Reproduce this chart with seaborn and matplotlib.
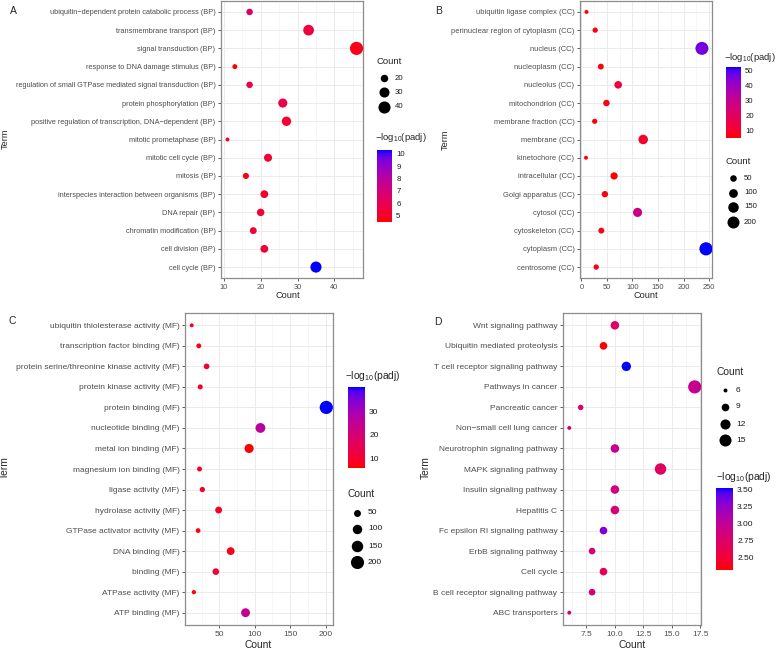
import numpy as np
import pandas as pd
import seaborn as sns
import matplotlib
matplotlib.use('Agg')
from matplotlib import pyplot as plt
from matplotlib.colors import LinearSegmentedColormap, Normalize
from matplotlib.cm import ScalarMappable
from matplotlib.ticker import FixedLocator

sns.set_theme(style='whitegrid')
plt.rcParams['font.family'] = ['Liberation Sans', 'DejaVu Sans']
plt.rcParams['mathtext.default'] = 'regular'

# ---- data (top to bottom as shown) ----
bp_terms = ['ubiquitin\u2212dependent protein catabolic process (BP)', 'transmembrane transport (BP)',
            'signal transduction (BP)', 'response to DNA damage stimulus (BP)',
            'regulation of small GTPase mediated signal transduction (BP)', 'protein phosphorylation (BP)',
            'positive regulation of transcription, DNA\u2212dependent (BP)', 'mitotic prometaphase (BP)',
            'mitotic cell cycle (BP)', 'mitosis (BP)', 'interspecies interaction between organisms (BP)',
            'DNA repair (BP)', 'chromatin modification (BP)', 'cell division (BP)', 'cell cycle (BP)']
bp_count = [17, 33, 46, 13, 17, 26, 27, 11, 22, 16, 21, 20, 18, 21, 35]
bp_logp = [6.5, 5.5, 4.8, 4.5, 5.8, 5.8, 5.3, 5.0, 5.3, 4.9, 5.1, 5.3, 5.2, 5.4, 10.3]

cc_terms = ['ubiquitin ligase complex (CC)', 'perinuclear region of cytoplasm (CC)', 'nucleus (CC)',
            'nucleoplasm (CC)', 'nucleolus (CC)', 'mitochondrion (CC)', 'membrane fraction (CC)',
            'membrane (CC)', 'kinetochore (CC)', 'intracellular (CC)', 'Golgi apparatus (CC)',
            'cytosol (CC)', 'cytoskeleton (CC)', 'cytoplasm (CC)', 'centrosome (CC)']
cc_count = [10, 27, 236, 38, 72, 49, 26, 121, 9, 64, 46, 110, 39, 244, 29]
cc_logp = [6, 6, 46, 7, 14, 7, 6, 10, 6, 5, 7, 28, 7, 52.2, 8]

mf_terms = ['ubiquitin thiolesterase activity (MF)', 'transcription factor binding (MF)',
            'protein serine/threonine kinase activity (MF)', 'protein kinase activity (MF)',
            'protein binding (MF)', 'nucleotide binding (MF)', 'metal ion binding (MF)',
            'magnesium ion binding (MF)', 'ligase activity (MF)', 'hydrolase activity (MF)',
            'GTPase activator activity (MF)', 'DNA binding (MF)', 'binding (MF)',
            'ATPase activity (MF)', 'ATP binding (MF)']
mf_count = [11, 21, 32, 23, 201, 108, 92, 22, 26, 49, 20, 66, 45, 14, 87]
mf_logp = [7, 7, 10, 8, 40.7, 27, 6, 9, 9, 9, 8, 7, 10, 5.7, 24]

kegg_terms = ['Wnt signaling pathway', 'Ubiquitin mediated proteolysis', 'T cell receptor signaling pathway',
              'Pathways in cancer', 'Pancreatic cancer', 'Non\u2212small cell lung cancer',
              'Neurotrophin signaling pathway', 'MAPK signaling pathway', 'Insulin signaling pathway',
              'Hepatitis C', 'Fc epsilon RI signaling pathway', 'ErbB signaling pathway', 'Cell cycle',
              'B cell receptor signaling pathway', 'ABC transporters']
kegg_count = [10, 9, 11, 17, 7, 6, 10, 14, 10, 10, 9, 8, 9, 8, 6]
kegg_logp = [2.7, 2.31, 3.52, 2.95, 2.75, 2.8, 2.95, 2.7, 2.85, 2.8, 3.3, 2.8, 2.65, 2.8, 2.85]

W, H = 778, 650
SIZES = (8, 90)


# red -> blue gradient interpolated in Lab like ggplot
M = np.array([[0.4124, 0.3576, 0.1805], [0.2126, 0.7152, 0.0722], [0.0193, 0.1192, 0.9505]])
WHITE = np.array([0.95047, 1.0, 1.08883])


def to_lab(rgb):
    c = np.asarray(rgb, float)
    c = np.where(c > 0.04045, ((c + 0.055) / 1.055) ** 2.4, c / 12.92)
    xyz = M @ c / WHITE
    f = np.where(xyz > 0.008856, np.cbrt(xyz), 7.787 * xyz + 16 / 116)
    return np.array([116 * f[1] - 16, 500 * (f[0] - f[1]), 200 * (f[1] - f[2])])


def from_lab(lab):
    L, a, b = lab
    fy = (L + 16) / 116
    f = np.array([fy + a / 500, fy, fy - b / 200])
    xyz = np.where(f ** 3 > 0.008856, f ** 3, (f - 16 / 116) / 7.787) * WHITE
    c = np.clip(np.linalg.inv(M) @ xyz, 0, 1)
    c = np.where(c > 0.0031308, 1.055 * c ** (1 / 2.4) - 0.055, 12.92 * c)
    return np.clip(c, 0, 1)


lab_lo, lab_hi = to_lab([1, 0, 0]), to_lab([0, 0, 1])
stops = [from_lab(lab_lo + t * (lab_hi - lab_lo)) for t in np.linspace(0, 1, 21)]
red_blue = LinearSegmentedColormap.from_list('red_blue', stops)


def px_axes(fig, left, top, right, bottom):
    return fig.add_axes([left / W, 1 - bottom / H, (right - left) / W, (bottom - top) / H])


def dot_panel(ax, terms, counts, logp, xticks, minor, fs):
    df = pd.DataFrame({'Term': terms, 'Count': counts, 'padj': logp})
    sns.scatterplot(data=df, x='Count', y='Term', hue='padj', palette=red_blue,
                    hue_norm=(min(logp), max(logp)), size='Count', sizes=SIZES,
                    size_norm=(min(counts), max(counts)), linewidth=0, legend=False, ax=ax, zorder=3)
    lo, hi = min(counts), max(counts)
    pad = (hi - lo) * 0.05
    ax.set_xlim(lo - pad, hi + pad)
    ax.set_ylim(len(terms) - 0.4, -0.6)
    ax.set_xticks(xticks)
    ax.xaxis.set_minor_locator(FixedLocator(minor))
    ax.grid(which='major', color='#ebebeb', linewidth=0.7)
    ax.grid(which='minor', axis='x', color='#f2f2f2', linewidth=0.45)
    ax.set_xlabel('')
    ax.set_ylabel('')
    for s in ax.spines.values():
        s.set_color('#8c8c8c')
        s.set_linewidth(0.9)
    ax.tick_params(axis='both', which='major', bottom=True, left=True, length=2.5, width=0.6,
                   color='#444444', labelsize=fs, labelcolor='#4d4d4d', pad=1.5)
    ax.tick_params(axis='x', which='minor', bottom=False)


def size_of(v, counts):
    lo, hi = min(counts), max(counts)
    return SIZES[0] + (v - lo) / (hi - lo) * (SIZES[1] - SIZES[0])


def size_legend(ov, counts, breaks, x, ys, title_xy, fs_title, fs):
    ov.text(title_xy[0], title_xy[1], 'Count', fontsize=fs_title, ha='left', va='center')
    for b, y in zip(breaks, ys):
        ov.scatter([x], [y], s=size_of(b, counts), color='black', linewidth=0)
        ov.text(x + 11, y, str(b), fontsize=fs, ha='left', va='center', color='#1a1a1a')


def color_legend(fig, ov, logp, box, ticks, fmt, title_xy, fs_title, fs):
    ov.text(title_xy[0], title_xy[1], r'$-log_{10}$(padj)', fontsize=fs_title, ha='left', va='center')
    cax = px_axes(fig, *box)
    sm = ScalarMappable(norm=Normalize(min(logp), max(logp)), cmap=red_blue)
    cb = fig.colorbar(sm, cax=cax)
    cb.outline.set_visible(False)
    cb.set_ticks(ticks)
    cb.set_ticklabels([fmt % t for t in ticks])
    cax.tick_params(axis='y', left=True, right=True, direction='in', length=3, width=0.6,
                    color='white', labelsize=fs, labelcolor='#1a1a1a', pad=3)


fig = plt.figure(figsize=(W / 100, H / 100), dpi=100)

ax_a = px_axes(fig, 221, 1, 363, 278)
dot_panel(ax_a, bp_terms, bp_count, bp_logp, [10, 20, 30, 40], [15, 25, 35, 45], 5.35)
ax_b = px_axes(fig, 580, 1, 712, 278)
dot_panel(ax_b, cc_terms, cc_count, cc_logp, [0, 50, 100, 150, 200, 250],
          [25, 75, 125, 175, 225], 5.4)
ax_c = px_axes(fig, 185, 313, 333, 625)
dot_panel(ax_c, mf_terms, mf_count, mf_logp, [50, 100, 150, 200], [25, 75, 125, 175], 6.0)
ax_d = px_axes(fig, 563, 313, 701, 625)
dot_panel(ax_d, kegg_terms, kegg_count, kegg_logp, [7.5, 10.0, 12.5, 15.0, 17.5],
          [6.25, 8.75, 11.25, 13.75, 16.25], 6.0)

ov = fig.add_axes([0, 0, 1, 1], zorder=5)
ov.set_xlim(0, W)
ov.set_ylim(H, 0)
ov.axis('off')
ov.patch.set_visible(False)

# panel letters, axis titles
for letter, x, y in [('A', 13, 11), ('B', 439, 11), ('C', 12, 321), ('D', 438, 322)]:
    ov.text(x, y, letter, fontsize=7.5, ha='center', va='center')
for x, y, fs in [(288, 295, 6.6), (646, 295, 6.6), (258, 645, 7.4), (632, 645, 7.4)]:
    ov.text(x, y, 'Count', fontsize=fs, ha='center', va='center')
for x, y, fs in [(5, 139, 6.6), (445, 140, 6.6), (5, 468, 7.4), (426, 468, 7.4)]:
    ov.text(x, y, 'Term', fontsize=fs, ha='center', va='center', rotation=90)

# legends
size_legend(ov, bp_count, [20, 30, 40], 384, [78, 92, 107], (377, 62), 6.8, 5.6)
color_legend(fig, ov, bp_logp, (377, 150, 392, 222), [5, 6, 7, 8, 9, 10], '%d', (375, 138), 6.8, 5.6)

color_legend(fig, ov, cc_logp, (726, 67, 741, 138), [10, 20, 30, 40, 50], '%d', (724, 57), 6.8, 5.6)
size_legend(ov, cc_count, [50, 100, 150, 200], 733, [178, 193, 207, 222], (726, 162), 6.8, 5.6)

color_legend(fig, ov, mf_logp, (348, 387, 365, 468), [10, 20, 30], '%d', (345, 376), 7.4, 6.0)
size_legend(ov, mf_count, [50, 100, 150, 200], 357, [513, 529, 546, 562], (348, 494), 7.4, 6.0)

size_legend(ov, kegg_count, [6, 9, 12, 15], 725, [390, 407, 424, 440], (717, 372), 7.4, 6.0)
color_legend(fig, ov, kegg_logp, (716, 488, 733, 570), [2.5, 2.75, 3.0, 3.25, 3.5], '%.2f',
             (716, 477), 7.4, 6.0)

fig.savefig('out.png', dpi=100)
